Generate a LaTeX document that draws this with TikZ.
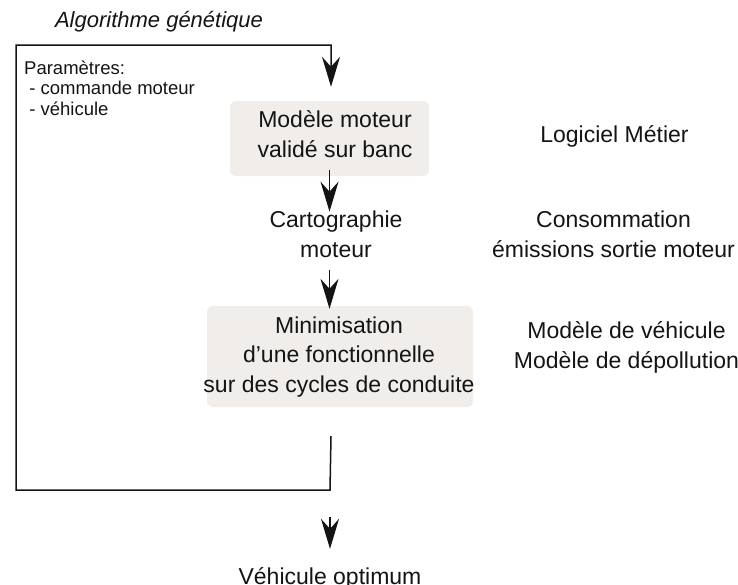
\documentclass[tikz,border=0pt]{standalone}
\usepackage{fontspec}
\setmainfont{Liberation Sans}
\usetikzlibrary{arrows.meta,calc}
\definecolor{boxfill}{RGB}{240,237,235}
\definecolor{ink}{RGB}{20,20,20}
\tikzset{
  main/.style={inner sep=0pt, align=center, text=ink, font=\fontsize{23}{29.5}\selectfont},
  small/.style={inner sep=0pt, align=left, text=ink, font=\fontsize{18.5}{20.5}\selectfont},
  titlestyle/.style={inner sep=0pt, text=ink, font=\itshape\fontsize{22}{26}\selectfont},
  graybox/.style={draw=none, fill=boxfill, rounded corners=6pt, inner sep=0pt},
  arr/.style={draw=ink, line width=1.5pt, -{Stealth[length=30pt,width=18pt,inset=10pt]}},
}
\begin{document}
\begin{tikzpicture}[x=1pt,y=-1pt]
\useasboundingbox (0,0) rectangle (738,584);
% boxes
\node[graybox, minimum width=199pt, minimum height=75pt] (box1) at (329.5,138.5) {};
\node[graybox, minimum width=266pt, minimum height=101pt] (box2) at (340,356.5) {};
% texts (base anchor = baseline of the last line)
\node[titlestyle, anchor=base] (title) at (159,27) {Algorithme génétique};
\node[small, anchor=base west] (params) at (24,115) {Paramètres:\\\ - commande moteur\\\ - véhicule};
\node[main, anchor=base] (t1) at (335,157) {Modèle moteur\\validé sur banc};
\node[main, anchor=base] (carto) at (336,257) {Cartographie\\moteur};
\node[main, anchor=base] (t2) at (339,392) {Minimisation\\d'une fonctionnelle\\sur des cycles de conduite};
\node[main, anchor=base] (logiciel) at (614.5,142) {Logiciel Métier};
\node[main, anchor=base] (conso) at (613.5,257) {Consommation\\émissions sortie moteur};
\node[main, anchor=base] (modeles) at (626.5,368) {Modèle de véhicule\\Modèle de dépollution};
\node[main, anchor=base] (result) at (330,584) {Véhicule optimum};
% loop
\coordinate (loopin) at (331,436);
\coordinate (exit) at (330,517);
\draw[arr] (loopin) -- (330,490) -- (16,490) -- (16,45) -- (331,45) -- ([yshift=14pt]box1.north -| 331,0);
% flow arrows
\draw[arr] ([yshift=6pt]box1.south) -- ([yshift=-1pt]carto.north -| box1.south);
\draw[arr] ([yshift=-13pt]carto.south -| box1.south) -- ([yshift=-3pt]box2.north -| box1.south);
\draw[arr] (exit) -- ([yshift=18pt]result.north);
\end{tikzpicture}
\end{document}
